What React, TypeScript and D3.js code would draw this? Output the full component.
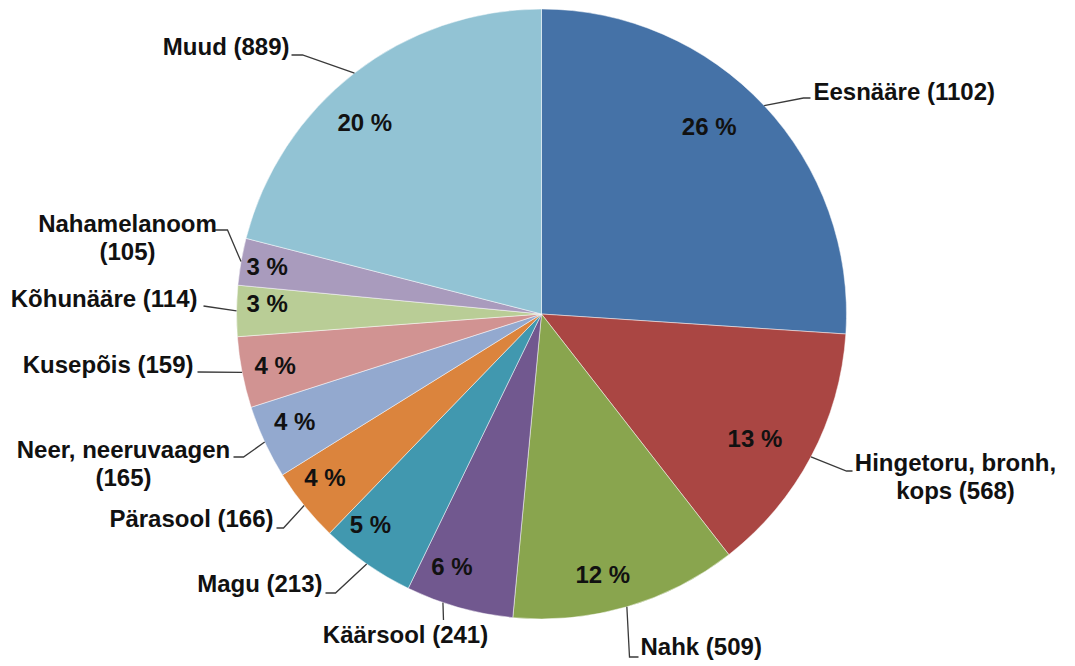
import React from 'react';
import * as d3 from 'd3';

// Slices, clockwise from 12 o'clock
const categories = [
  'Eesnääre',
  'Hingetoru, bronh, kops',
  'Nahk',
  'Käärsool',
  'Magu',
  'Pärasool',
  'Neer, neeruvaagen',
  'Kusepõis',
  'Kõhunääre',
  'Nahamelanoom',
  'Muud',
];
const counts = [1102, 568, 509, 241, 213, 166, 165, 159, 114, 105, 889];
// percentages as printed on the chart
const percentLabels = [26, 13, 12, 6, 5, 4, 4, 4, 3, 3, 20];
const sliceColors = [
  '#4572A7', '#AA4643', '#89A54E', '#71588F', '#4198AF', '#DB843D',
  '#93A9CF', '#D19392', '#B9CD96', '#A99BBD', '#92C3D4',
];
// where a category label wraps onto a second line
const labelBreaks: (string | null)[] = [
  null, 'Hingetoru, bronh,', null, null, null, null, 'Neer, neeruvaagen', null, null, 'Nahamelanoom', null,
];

const W = 1075;
const H = 666;
const cx = 541.5;
const cy = 314;
const R = 305;
const FONT = '"Liberation Sans", Arial, sans-serif';
const LINE_H = 28;

// outer label placement, relative to the pie centre
// tx/ty = text anchor (first baseline), elbow/end = leader line bends, shift = deg nudge of leader start
const outerLayout = [
  { tx: 272, ty: -214, anchor: 'start', elbow: [262, -216], end: [269, -216], shift: 0 },
  { tx: 414, ty: 157, anchor: 'middle', elbow: [305, 157], end: [311, 157], shift: 0 },
  { tx: 99, ty: 341, anchor: 'start', elbow: [88, 343], end: [97, 343], shift: 0 },
  { tx: -136, ty: 329, anchor: 'middle', elbow: [-98, 306], end: [-98, 306], shift: 3.2 },
  { tx: -219, ty: 278, anchor: 'end', elbow: [-206, 279], end: [-216, 279], shift: 0 },
  { tx: -268, ty: 213, anchor: 'end', elbow: [-258, 214], end: [-265, 214], shift: 0 },
  { tx: -418, ty: 144, anchor: 'middle', elbow: [-298, 143], end: [-308, 143], shift: 0 },
  { tx: -348, ty: 59, anchor: 'end', elbow: [-344, 58], end: [-344, 58], shift: 0 },
  { tx: -344, ty: -7, anchor: 'end', elbow: [-338, -8], end: [-338, -8], shift: 0 },
  { tx: -414, ty: -82, anchor: 'middle', elbow: [-314, -84], end: [-328, -84], shift: 0 },
  { tx: -252, ty: -259, anchor: 'end', elbow: [-239, -259], end: [-250, -259], shift: 0 },
];
// small nudges of the inside percentage labels (Excel shifts them a bit)
const pctNudge = [
  [-26, -6], [-21, 0], [-13, 6], [-18, -3], [-19, -7], [-10, -3],
  [-6, -4], [-6, 1], [-9, -8], [-13, -2], [-14, 18],
];

const App: React.FC = () => {
  const pie = d3.pie<number>().sort(null).value(d => d);
  const arcs = pie(counts);
  const arc = d3.arc<d3.PieArcDatum<number>>().innerRadius(0).outerRadius(R);
  const labelArc = d3.arc<d3.PieArcDatum<number>>().innerRadius(R * 0.87).outerRadius(R * 0.87);
  const leader = d3.line();

  return (
    <svg
      width={W}
      height={H}
      style={{ position: 'absolute', left: 0, top: 0, background: '#fff' }}
      fontFamily={FONT}
      fontWeight="bold"
      fontSize={24}
    >
      <g transform={`translate(${cx},${cy})`}>
        {arcs.map((d, i) => (
          <path key={categories[i]} d={arc(d) || ''} fill={sliceColors[i]} stroke="#fff" strokeWidth={0.8} strokeOpacity={0.6} />
        ))}

        {arcs.map((d, i) => {
          const [x, y] = labelArc.centroid(d);
          return (
            <text key={'p' + i} x={x + pctNudge[i][0]} y={y + pctNudge[i][1]} dy="0.35em" textAnchor="middle" fill="#111">
              {`${percentLabels[i]} %`}
            </text>
          );
        })}

        {arcs.map((d, i) => {
          const L = outerLayout[i];
          const a = (d.startAngle + d.endAngle) / 2 + (L.shift * Math.PI) / 180;
          const start: [number, number] = [R * Math.sin(a), -R * Math.cos(a)];
          const pts: [number, number][] = [start, L.elbow as [number, number], L.end as [number, number]];
          return (
            <path key={'l' + i} d={leader(pts) || ''} fill="none" stroke="#3a3a3a" strokeWidth={1.3} />
          );
        })}

        {categories.map((c, i) => {
          const L = outerLayout[i];
          const full = `${c} (${counts[i]})`;
          const brk = labelBreaks[i];
          const lines = brk ? [brk, full.slice(brk.length).trim()] : [full];
          return (
            <text key={'t' + i} x={L.tx} y={L.ty} textAnchor={L.anchor as any} fill="#111">
              {lines.map((ln, j) => (
                <tspan key={j} x={L.tx} y={L.ty + j * LINE_H}>{ln}</tspan>
              ))}
            </text>
          );
        })}
      </g>
    </svg>
  );
};

export default App;
